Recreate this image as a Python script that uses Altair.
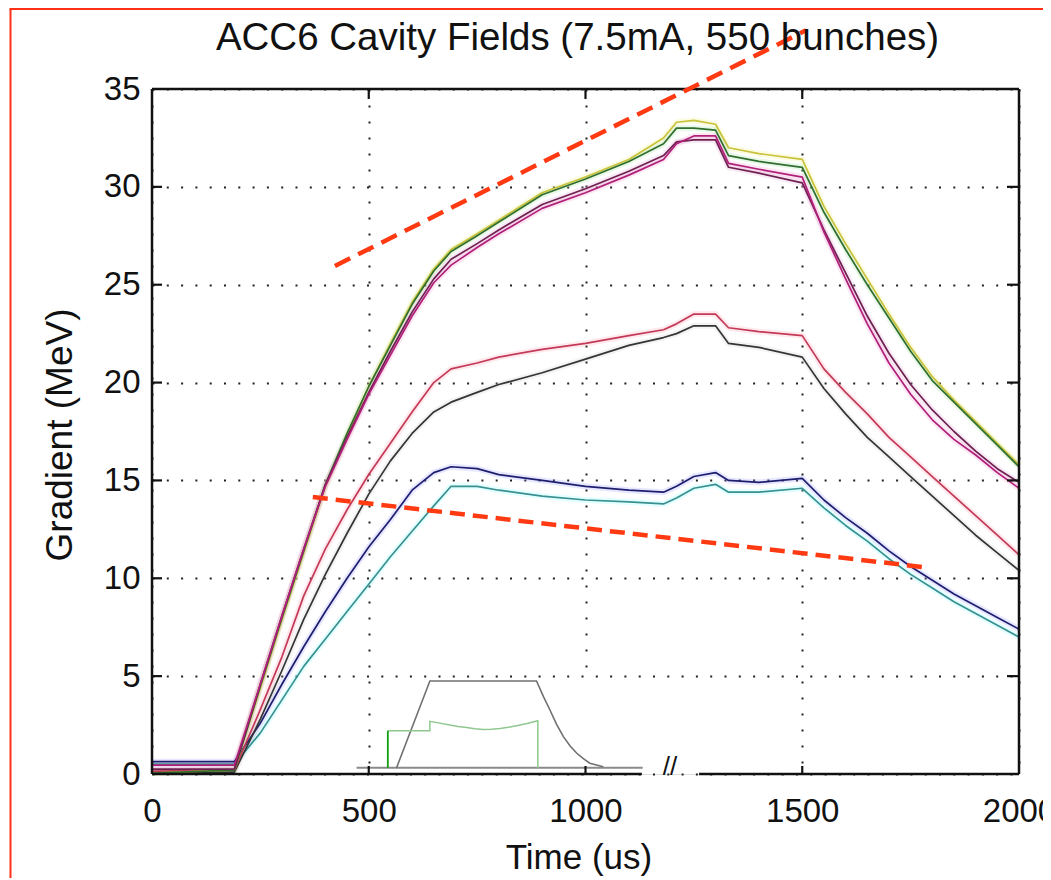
import altair as alt
import pandas as pd

FONT = "Liberation Sans"
TITLE = "ACC6 Cavity Fields (7.5mA, 550 bunches)"
X_TITLE = "Time (us)"
Y_TITLE = "Gradient (MeV)"
X_TICKS = [0, 500, 1000, 1500, 2000]
Y_TICKS = [0, 5, 10, 15, 20, 25, 30, 35]

TIME = [0, 190, 250, 300, 350, 400, 450, 500, 550, 600, 650, 690, 750, 800, 900,
        1000, 1100, 1180, 1210, 1250, 1300, 1330, 1400, 1500, 1550, 1600, 1650,
        1700, 1750, 1800, 1850, 1900, 1950, 2000]

GREEN = [0.05, 0.2, 4.5, 8.0, 11.4, 14.8, 17.4, 19.8, 21.9, 24.0, 25.7, 26.7, 27.5, 28.2, 29.6,
         30.4, 31.3, 32.2, 33.0, 33.0, 32.9, 31.6, 31.3, 31.0, 28.7, 26.8, 25.0,
         23.3, 21.6, 20.1, 19.0, 17.9, 16.8, 15.7]
YELLOW = [0.05, 0.2, 4.4, 7.9, 11.3, 14.7, 17.3, 19.8, 22.0, 24.1, 25.8, 26.8, 27.6, 28.3, 29.7,
          30.5, 31.4, 32.5, 33.3, 33.4, 33.2, 32.0, 31.7, 31.4, 29.0, 27.1, 25.3,
          23.5, 21.8, 20.3, 19.1, 18.0, 16.9, 15.8]
MAGENTA = [0.45, 0.45, 4.6, 8.1, 11.5, 14.7, 17.1, 19.4, 21.4, 23.4, 25.1, 26.0, 26.9, 27.6, 28.9,
           29.7, 30.6, 31.4, 32.2, 32.6, 32.6, 31.2, 30.9, 30.5, 27.7, 25.3, 23.0,
           21.0, 19.4, 18.1, 17.1, 16.3, 15.4, 14.6]
PURPLE = [0.25, 0.25, 4.6, 8.1, 11.5, 14.8, 17.2, 19.5, 21.6, 23.6, 25.3, 26.3, 27.1, 27.8, 29.1,
          29.9, 30.8, 31.6, 32.3, 32.4, 32.4, 31.0, 30.7, 30.2, 27.8, 25.6, 23.4,
          21.5, 19.9, 18.6, 17.5, 16.5, 15.6, 14.9]
RED = [0.15, 0.2, 3.3, 6.0, 9.1, 11.5, 13.5, 15.3, 16.9, 18.5, 20.0, 20.7, 21.0, 21.3, 21.7,
       22.0, 22.4, 22.7, 23.0, 23.5, 23.5, 22.8, 22.6, 22.4, 20.7, 19.5, 18.4,
       17.2, 16.2, 15.2, 14.2, 13.2, 12.2, 11.2]
BLACK = [0.1, 0.1, 2.8, 5.3, 7.9, 10.2, 12.3, 14.3, 16.0, 17.4, 18.5, 19.0, 19.5, 19.9, 20.5,
         21.2, 21.9, 22.3, 22.5, 22.9, 22.9, 22.0, 21.8, 21.3, 19.7, 18.4, 17.2,
         16.2, 15.2, 14.2, 13.2, 12.2, 11.3, 10.4]
NAVY = [0.63, 0.63, 2.6, 4.6, 6.5, 8.3, 10.0, 11.6, 13.0, 14.5, 15.4, 15.7, 15.6, 15.3, 15.0,
        14.7, 14.5, 14.4, 14.7, 15.2, 15.4, 15.0, 14.9, 15.1, 14.0, 13.1, 12.3,
        11.4, 10.6, 9.9, 9.2, 8.6, 8.0, 7.4]
CYAN = [0.5, 0.5, 2.1, 3.8, 5.5, 6.9, 8.3, 9.7, 11.1, 12.4, 13.7, 14.7, 14.7, 14.5, 14.2,
        14.0, 13.9, 13.8, 14.1, 14.6, 14.8, 14.4, 14.4, 14.6, 13.6, 12.7, 11.9,
        11.0, 10.2, 9.5, 8.8, 8.2, 7.6, 7.0]

SERIES_NAMES = ["cyan", "navy", "black", "red", "yellow", "green", "purple", "magenta"]
SERIES_VALUES = [CYAN, NAVY, BLACK, RED, YELLOW, GREEN, PURPLE, MAGENTA]
LINE_COLORS = ["#3a9090", "#1e1e6e", "#353535", "#c23a58", "#c9c23c", "#2f6e2f", "#6e2050", "#b0207a"]
HALO_COLORS = ["#80ffff", "#9090ff", "#c8c8c8", "#ff9aae", "#f0f080", "#a0e0a0", "#e0a0d0", "#f090c8"]

# red dashed annotation lines (data coordinates)
DASH1_X = [422, 1509]
DASH1_Y = [25.96, 38.0]
DASH2_X = [371, 1776]
DASH2_Y = [14.15, 10.58]

# inset sketch (drawn in the main axes' coordinates)
INSET_BOX = [508, 1264, 0.1, 4.85]
INSET_BASE_X = [472, 1132]
INSET_BASE_Y = [0.32, 0.32]
INSET_PULSE_X = [564, 641, 887, 903, 918, 933, 949, 965, 980, 995, 1010, 1041]
INSET_PULSE_Y = [0.31, 4.75, 4.75, 3.95, 3.27, 2.55, 1.91, 1.42, 1.06, 0.78, 0.55, 0.37]
INSET_FILL_X = [544, 641, 641, 664, 687, 706, 726, 745, 764, 783, 803, 822, 841, 865, 890, 890]
INSET_FILL_Y = [2.21, 2.21, 2.69, 2.6, 2.5, 2.43, 2.37, 2.31, 2.28, 2.29, 2.33, 2.39, 2.47, 2.58, 2.72, 0.31]
INSET_STEP_X = [544, 544]
INSET_STEP_Y = [0.31, 2.21]

# bottom axis break
AXIS_BREAK = [1130, 1262]
BREAK_MARK = [1195, 0.36]

W, H = 867, 685

rows = []
for name, vals, lc, hc in zip(SERIES_NAMES, SERIES_VALUES, LINE_COLORS, HALO_COLORS):
    for t, v in zip(TIME, vals):
        rows.append({"series": name, "t": t, "v": v, "lc": lc, "hc": hc})
df = pd.DataFrame(rows)

xs = alt.Scale(domain=[0, 2000], nice=False, zero=False)
ys = alt.Scale(domain=[0, 35], nice=False, zero=False)

x_axis = alt.Axis(values=X_TICKS, format="d", grid=True, gridDash=[2, 14], gridColor="#222",
                  gridWidth=2, domain=False, ticks=False, labelFont=FONT, labelFontSize=33,
                  labelColor="#111", labelPadding=21, labelFlush=False, labelOverlap=False,
                  title=X_TITLE, titleFont=FONT, titleFontSize=35, titleFontWeight="normal",
                  titleColor="#111", titleX=426.5, titleY=94, titleBaseline="alphabetic",
                  titleAlign="center")
y_axis = alt.Axis(values=Y_TICKS, format="d", grid=True, gridDash=[2, 12.3], gridColor="#222",
                  gridWidth=2, domain=False, ticks=False, labelFont=FONT, labelFontSize=33,
                  labelColor="#111", labelPadding=12, labelFlush=False, labelOverlap=False,
                  title=Y_TITLE, titleFont=FONT, titleFontSize=37, titleFontWeight="normal",
                  titleColor="#111", titleX=-81, titleY=345.5, titleAngle=270,
                  titleBaseline="alphabetic", titleAlign="center")


def X(field):
    return alt.X(field, scale=xs, axis=x_axis)


def Y(field):
    return alt.Y(field, scale=ys, axis=y_axis)


halo = alt.Chart(df).mark_line(strokeWidth=6, opacity=0.22, strokeJoin="round").encode(
    x=X("t:Q"), y=Y("v:Q"),
    color=alt.Color("hc:N", scale=None),
    detail="series:N",
)
lines = alt.Chart(df).mark_line(strokeWidth=1.7, strokeJoin="round").encode(
    x=X("t:Q"), y=Y("v:Q"),
    color=alt.Color("lc:N", scale=None),
    detail="series:N",
)

box_df = pd.DataFrame({"x": [INSET_BOX[0]], "x2": [INSET_BOX[1]], "y": [INSET_BOX[2]], "y2": [INSET_BOX[3]]})
inset_box = alt.Chart(box_df).mark_rect(color="white").encode(
    x=X("x:Q"), x2="x2:Q", y=Y("y:Q"), y2="y2:Q")


def path_df(xv, yv):
    return pd.DataFrame({"x": xv, "y": yv, "i": list(range(len(xv)))})


def inset_line(xv, yv, color, width):
    return alt.Chart(path_df(xv, yv)).mark_line(color=color, strokeWidth=width).encode(
        x=X("x:Q"), y=Y("y:Q"), order="i:Q")


inset_base = inset_line(INSET_BASE_X, INSET_BASE_Y, "#8a8a8a", 2)
inset_pulse = inset_line(INSET_PULSE_X, INSET_PULSE_Y, "#707070", 1.6)
inset_fill = inset_line(INSET_FILL_X, INSET_FILL_Y, "#8fc88f", 1.5)
inset_step = inset_line(INSET_STEP_X, INSET_STEP_Y, "#10a010", 1.8)

frame_df = pd.DataFrame({
    "x": [0, 0, 2000, 0, AXIS_BREAK[1]],
    "x2": [0, 2000, 2000, AXIS_BREAK[0], 2000],
    "y": [0, 35, 0, 0, 0],
    "y2": [35, 35, 35, 0, 0],
})
frame = alt.Chart(frame_df).mark_rule(color="#111", strokeWidth=2.5).encode(
    x=X("x:Q"), x2="x2:Q", y=Y("y:Q"), y2="y2:Q")

yt = pd.DataFrame({"v": Y_TICKS[1:-1]})
xt = pd.DataFrame({"v": X_TICKS[1:-1]})
tick_left = alt.Chart(yt).mark_rule(color="#111", strokeWidth=2.2).encode(
    y=Y("v:Q"), x=alt.value(0), x2=alt.value(10))
tick_right = alt.Chart(yt).mark_rule(color="#111", strokeWidth=2.2).encode(
    y=Y("v:Q"), x=alt.value(W - 12), x2=alt.value(W))
tick_top = alt.Chart(xt).mark_rule(color="#111", strokeWidth=2.2).encode(
    x=X("v:Q"), y=alt.value(0), y2=alt.value(10))
tick_bottom = alt.Chart(xt).mark_rule(color="#111", strokeWidth=2.2).encode(
    x=X("v:Q"), y=alt.value(H - 8), y2=alt.value(H))

dash_df1 = pd.DataFrame({"x": [DASH1_X[0]], "x2": [DASH1_X[1]], "y": [DASH1_Y[0]], "y2": [DASH1_Y[1]]})
dash_df2 = pd.DataFrame({"x": [DASH2_X[0]], "x2": [DASH2_X[1]], "y": [DASH2_Y[0]], "y2": [DASH2_Y[1]]})
dash1 = alt.Chart(dash_df1).mark_rule(color="#ff3a12", strokeWidth=4.5, strokeDash=[17, 9], clip=False).encode(
    x=X("x:Q"), x2="x2:Q", y=Y("y:Q"), y2="y2:Q")
dash2 = alt.Chart(dash_df2).mark_rule(color="#ff3a12", strokeWidth=4.5, strokeDash=[15, 8], clip=False).encode(
    x=X("x:Q"), x2="x2:Q", y=Y("y:Q"), y2="y2:Q")

brk = alt.Chart(pd.DataFrame({"x": [BREAK_MARK[0]], "y": [BREAK_MARK[1]], "s": ["//"]})).mark_text(
    font=FONT, fontSize=26, color="#111", align="center", baseline="middle").encode(
    x=X("x:Q"), y=Y("y:Q"), text="s:N")

title = alt.Chart(pd.DataFrame({"s": [TITLE]})).mark_text(
    font=FONT, fontSize=38.5, color="#111", align="center", baseline="alphabetic").encode(
    x=alt.value(425.5), y=alt.value(-39), text="s:N")

border_left = alt.Chart(pd.DataFrame({"a": [0]})).mark_rule(color="#ff3018", strokeWidth=2).encode(
    x=alt.value(-141.5), y=alt.value(-80), y2=alt.value(H + 120))
border_top = alt.Chart(pd.DataFrame({"a": [0]})).mark_rule(color="#ff3018", strokeWidth=2).encode(
    x=alt.value(-142.5), x2=alt.value(W + 40), y=alt.value(-80))

chart = alt.layer(
    halo, lines, inset_box, inset_base, inset_pulse, inset_fill, inset_step,
    frame, tick_left, tick_right, tick_top, tick_bottom, dash1, dash2, brk, title,
    border_left, border_top,
).properties(
    width=W, height=H,
    autosize=alt.AutoSizeParams(type="none"),
    padding={"left": 144, "top": 81, "right": 24, "bottom": 104},
).configure_view(stroke=None).configure(background="white")

chart.save("out.html", embed_options={"renderer": "svg", "actions": False})
